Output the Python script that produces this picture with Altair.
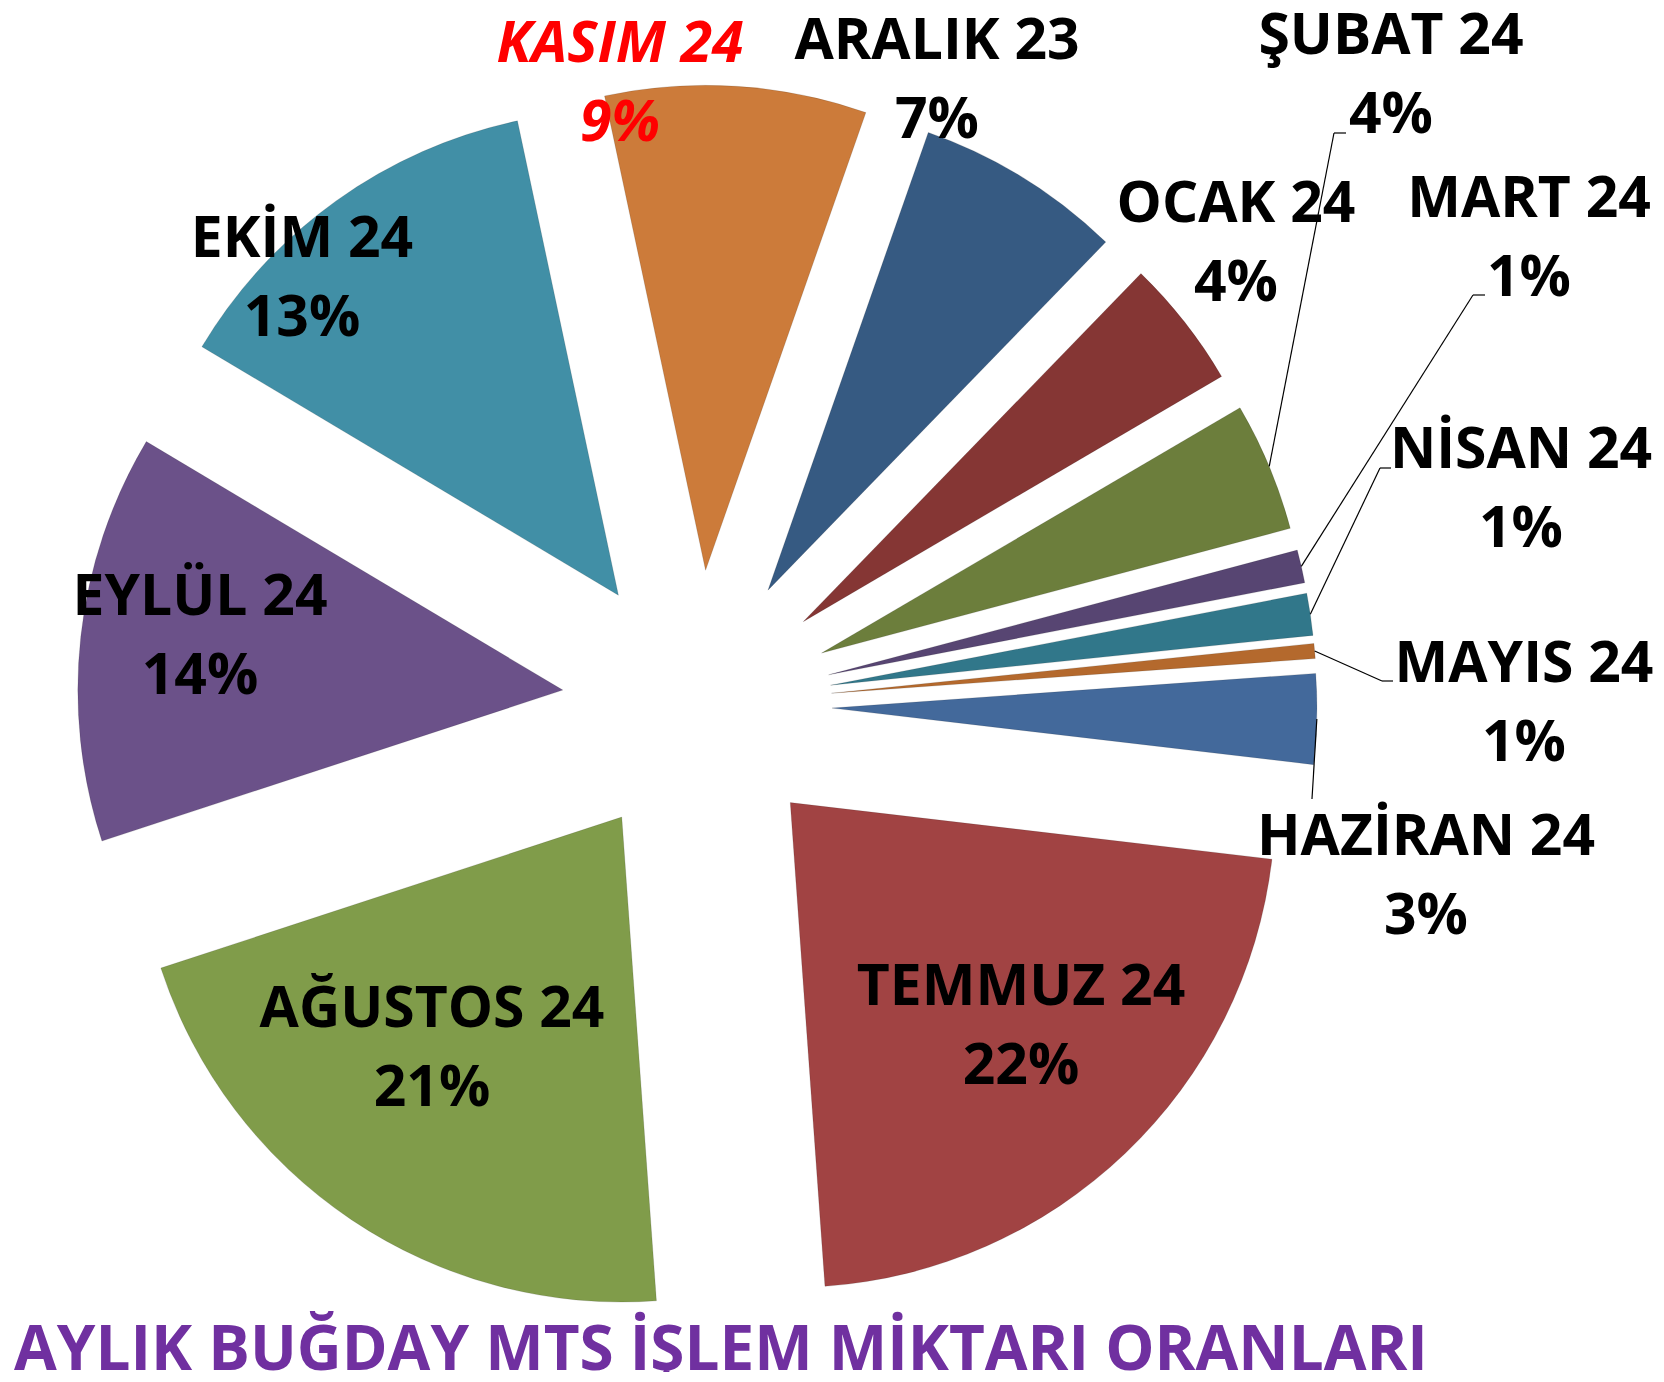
import altair as alt
import pandas as pd

# ---- data ----
months = ["ARALIK 23", "OCAK 24", "ŞUBAT 24", "MART 24", "NİSAN 24", "MAYIS 24",
          "HAZİRAN 24", "TEMMUZ 24", "AĞUSTOS 24", "EYLÜL 24", "EKİM 24", "KASIM 24"]
shares = [6.9, 4.3, 4.3, 1.1, 1.4, 0.5, 3.0, 22.0, 21.1, 13.6, 13.1, 8.7]
pct_labels = ["7%", "4%", "4%", "1%", "1%", "1%", "3%", "22%", "21%", "14%", "13%", "9%"]
title_text = "AYLIK BUĞDAY MTS İŞLEM MİKTARI ORANLARI"

# ---- styles ----
colors = ["#365A82", "#853634", "#6C7E3C", "#574572", "#31778A", "#B4692D",
          "#43699B", "#A14343", "#809C4A", "#6B5189", "#418FA6", "#CC7B3A"]
highlight = ["KASIM 24"]
FONT = "Open Sans"
FS = 57
LINE_GAP = 79

# ---- layout (page pixels; page margin subtracted below) ----
M = 8
CX, CY = 697 - M, 705 - M
R = 485
EXPLODE = 135
START_DEG = 19.3
label_x = [937, 1236, 1391, 1529, 1521, 1524, 1426, 1021, 432, 200, 302, 620]
label_y = [59, 222, 54, 217, 468, 682, 855, 1005, 1027, 615, 257, 62]
elbow_x = [None, None, 1334, 1473, 1380, 1382, 1312, None, None, None, None, None]
elbow_y = [None, None, 133, 295, 468, 681, 799, None, None, None, None, None]
stub_len = [0, 0, 12, 12, 11, 11, 0, 0, 0, 0, 0, 0]

df = pd.DataFrame({
    "order": list(range(len(months))),
    "month": months,
    "share": shares,
    "pct": pct_labels,
    "lx": [v - M for v in label_x],
    "ly": [v - M for v in label_y],
    "ex": [None if v is None else v - M for v in elbow_x],
    "ey": [None if v is None else v - M for v in elbow_y],
    "stub": stub_len,
})

start_rad = START_DEG * 3.141592653589793 / 180

base = (
    alt.Chart(df)
    .transform_joinaggregate(total="sum(share)")
    .transform_window(cum="sum(share)", sort=[alt.SortField("order")], frame=[None, 0])
    .transform_calculate(
        a0=f"{start_rad} + 2*PI*(datum.cum - datum.share)/datum.total",
        a1=f"{start_rad} + 2*PI*datum.cum/datum.total",
    )
    .transform_calculate(mid="(datum.a0 + datum.a1)/2")
    .transform_calculate(
        sx=f"{CX} + {EXPLODE}*sin(datum.mid)",
        sy=f"{CY} - {EXPLODE}*cos(datum.mid)",
    )
    .transform_calculate(
        ox=f"datum.sx + {R}*sin(datum.mid)",
        oy=f"datum.sy - {R}*cos(datum.mid)",
        ly2=f"datum.ly + {LINE_GAP}",
        ex2="datum.ex + datum.stub",
    )
)

arcs = base.mark_arc(outerRadius=R, stroke="#000000", strokeOpacity=0.12, strokeWidth=1).encode(
    theta=alt.Theta("a0:Q", scale=None),
    theta2="a1:Q",
    x=alt.X("sx:Q", scale=None),
    y=alt.Y("sy:Q", scale=None),
    color=alt.Color("month:N", scale=alt.Scale(domain=months, range=colors), legend=None),
)

leader_filter = "datum.ex != null"
leaders = base.transform_filter(leader_filter).mark_rule(color="black", strokeWidth=1.2).encode(
    x=alt.X("ox:Q", scale=None), y=alt.Y("oy:Q", scale=None),
    x2="ex:Q", y2="ey:Q",
)
stubs = base.transform_filter(leader_filter).mark_rule(color="black", strokeWidth=1.2).encode(
    x=alt.X("ex:Q", scale=None), y=alt.Y("ey:Q", scale=None),
    x2="ex2:Q", y2="ey:Q",
)

is_hl = alt.FieldOneOfPredicate(field="month", oneOf=highlight)
not_hl = {"not": {"field": "month", "oneOf": highlight}}

def text_layers(flt, color, style):
    b = base.transform_filter(flt)
    kw = dict(font=FONT, fontSize=FS, fontWeight="bold", color=color,
              align="center", baseline="alphabetic", fontStyle=style)
    l1 = b.mark_text(**kw).encode(
        x=alt.X("lx:Q", scale=None), y=alt.Y("ly:Q", scale=None), text="month:N")
    l2 = b.mark_text(**kw).encode(
        x=alt.X("lx:Q", scale=None), y=alt.Y("ly2:Q", scale=None), text="pct:N")
    return [l1, l2]

labels = text_layers(not_hl, "#000000", "normal") + text_layers(is_hl, "#FF0000", "italic")

title = alt.Chart(pd.DataFrame({"t": [title_text]})).mark_text(
    font=FONT, fontSize=62, fontWeight="bold", color="#7030A0",
    align="left", baseline="alphabetic",
).encode(text="t:N", x=alt.value(14 - M), y=alt.value(1370 - M))

chart = alt.layer(arcs, leaders, stubs, *labels, title).properties(
    width=1648, height=1364, padding=0, autosize=alt.AutoSizeParams(type="none")
).configure_view(stroke=None)

chart.save("out.html", embed_options={"renderer": "svg", "actions": False})
